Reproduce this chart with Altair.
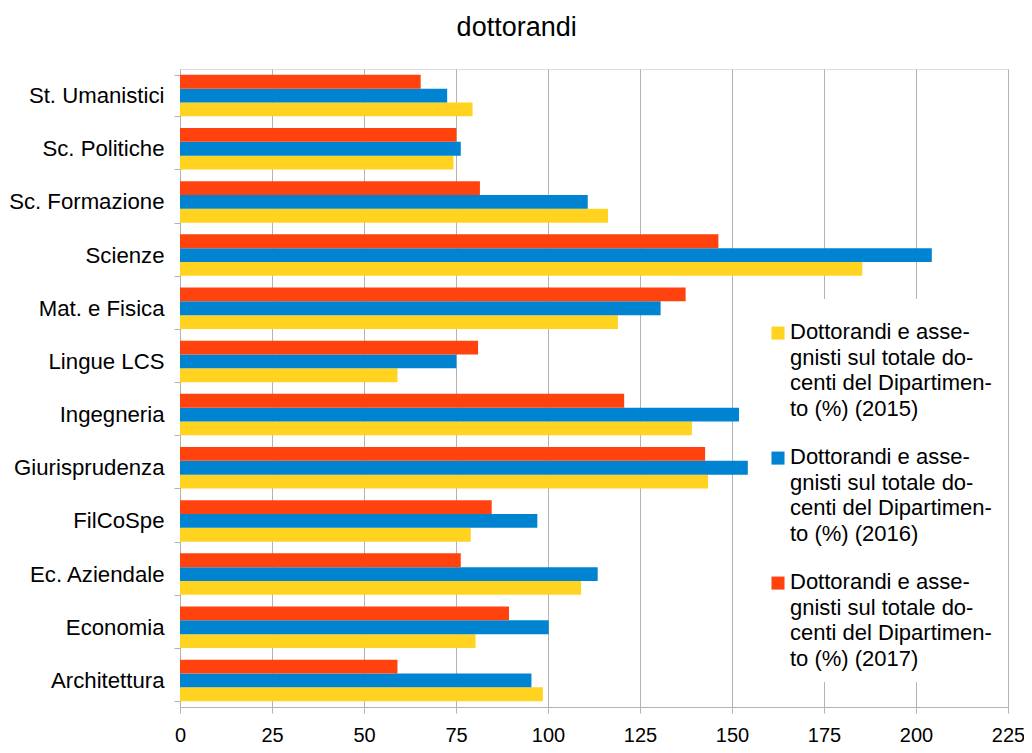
import altair as alt
import pandas as pd

categories = ["St. Umanistici", "Sc. Politiche", "Sc. Formazione", "Scienze",
              "Mat. e Fisica", "Lingue LCS", "Ingegneria", "Giurisprudenza",
              "FilCoSpe", "Ec. Aziendale", "Economia", "Architettura"]

v2015 = [79.5, 74.3, 116.3, 185.4, 119.0, 59.1, 139.1, 143.5, 79.0, 109.0, 80.3, 98.6]
v2016 = [72.6, 76.3, 110.8, 204.3, 130.6, 75.1, 151.9, 154.3, 97.1, 113.5, 100.2, 95.5]
v2017 = [65.4, 75.1, 81.5, 146.3, 137.4, 81.0, 120.7, 142.7, 84.7, 76.3, 89.4, 59.1]

series = [
    "Dottorandi e assegnisti sul totale docenti del Dipartimento (%) (2015)",
    "Dottorandi e assegnisti sul totale docenti del Dipartimento (%) (2016)",
    "Dottorandi e assegnisti sul totale docenti del Dipartimento (%) (2017)",
]
legend_lines = [
    ["Dottorandi e asse-", "gnisti sul totale do-", "centi del Dipartimen-", "to (%) (2015)"],
    ["Dottorandi e asse-", "gnisti sul totale do-", "centi del Dipartimen-", "to (%) (2016)"],
    ["Dottorandi e asse-", "gnisti sul totale do-", "centi del Dipartimen-", "to (%) (2017)"],
]
colors = ["#FFD320", "#0084D1", "#FF420E"]

rows = []
for s, vals in zip(series, [v2015, v2016, v2017]):
    for c, v in zip(categories, vals):
        rows.append({"Dipartimento": c, "serie": s, "valore": v})
df = pd.DataFrame(rows)

def js_list(lines):
    return "[" + ",".join("'" + l.replace("'", "\\'") + "'" for l in lines) + "]"

label_expr = ""
for s, lines in zip(series[:-1], legend_lines[:-1]):
    label_expr += f"datum.label == '{s}' ? {js_list(lines)} : "
label_expr += js_list(legend_lines[-1])

FONT = "Liberation Sans"
# square symbol shifted down so it lines up with the first label line
SYMBOL = "M-1,0.7H1V2.7H-1Z"

chart = alt.Chart(df).mark_bar().encode(
    y=alt.Y("Dipartimento:N", sort=categories, title=None,
            scale=alt.Scale(paddingInner=0.22, paddingOuter=0.11),
            axis=alt.Axis(labelFontSize=22.2, labelFont=FONT, labelColor="#000000",
                          tickBand="extent", tickSize=6, tickColor="#b3b3b3",
                          domainColor="#b3b3b3", labelPadding=10)),
    x=alt.X("valore:Q", title=None,
            scale=alt.Scale(domain=[0, 225], nice=False),
            axis=alt.Axis(values=list(range(0, 226, 25)), labelFontSize=20,
                          labelFont=FONT, labelColor="#000000", tickSize=6,
                          tickColor="#b3b3b3", domainColor="#b3b3b3",
                          gridColor="#b3b3b3", labelPadding=12, labelFlush=False)),
    yOffset=alt.YOffset("serie:N", sort="descending"),
    color=alt.Color("serie:N", scale=alt.Scale(domain=series, range=colors),
                    legend=alt.Legend(
                        title=None, orient="none", legendX=575, legendY=230,
                        fillColor="#ffffff", padding=12,
                        symbolType=SYMBOL, symbolSize=170, symbolStrokeWidth=0,
                        labelFontSize=22, labelFont=FONT, labelColor="#000000",
                        labelLimit=400, labelBaseline="top", labelOffset=1,
                        rowPadding=16, labelExpr=label_expr)),
).properties(
    width=828, height=638,
    title=alt.Title("dottorandi", fontSize=27, font=FONT, fontWeight="normal",
                    color="#000000", offset=16, frame="bounds", anchor="middle"),
    padding={"left": 172, "top": 61, "right": 16, "bottom": 38},
    autosize=alt.AutoSizeParams(type="none"),
).configure_view(stroke="#b3b3b3").configure(
    style={"guide-label": {"lineHeight": 25.5}}
)

chart.save("out.html", embed_options={"renderer": "svg", "actions": False})
